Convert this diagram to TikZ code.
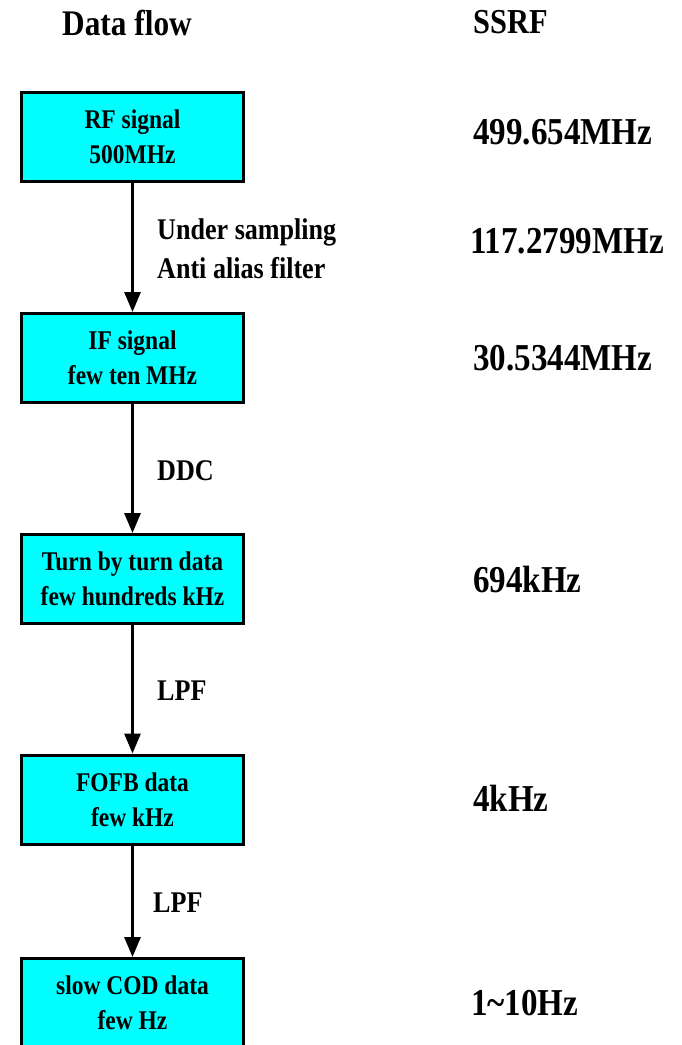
\documentclass[tikz,border=0pt]{standalone}
\usepackage{fontspec}
\setmainfont[FakeStretch=0.87]{Liberation Serif}
\usetikzlibrary{arrows.meta}
\definecolor{boxcyan}{RGB}{0,255,255}
\begin{document}
\begin{tikzpicture}[x=1pt,y=-1pt,
  flowbox/.style={draw=black, line width=3pt, fill=boxcyan, minimum width=222pt,
    minimum height=89pt, inner sep=0pt, align=center,
    font=\bfseries\fontsize{27}{35}\selectfont},
  flowarrow/.style={line width=3pt, -{Triangle[width=16pt 0 0,length=20pt 0 0]}},
  steplabel/.style={inner sep=0pt, align=left, font=\bfseries\fontsize{30}{39}\selectfont},
  headlabel/.style={inner sep=0pt, anchor=base west, font=\bfseries\fontsize{36}{40}\selectfont},
  freqlabel/.style={inner sep=0pt, anchor=base west, font=\bfseries\fontsize{38}{42}\selectfont}]
\useasboundingbox (0,0) rectangle (682,1045);

\node[headlabel] (hdf) at (62,35) {Data flow};
\node[headlabel, font=\bfseries\fontsize{35}{40}\selectfont] (hss) at (473,33) {SSRF};

\node[flowbox] (b1) at (132.5,137) {RF signal\\500MHz};
\node[flowbox] (b2) at (132.5,358) {IF signal\\few ten MHz};
\node[flowbox] (b3) at (132.5,579) {Turn by turn data\\few hundreds kHz};
\node[flowbox] (b4) at (132.5,799.5) {FOFB data\\few kHz};
\node[flowbox] (b5) at (132.5,1003) {slow COD data\\few Hz};

\draw[flowarrow] (b1.south) -- (b2.north);
\draw[flowarrow] (b2.south) -- (b3.north);
\draw[flowarrow] (b3.south) -- (b4.north);
\draw[flowarrow] (b4.south) -- (b5.north);

\node[steplabel, anchor=west] (l1) at (157,249) {Under sampling\\Anti alias filter};
\node[steplabel, anchor=base west] (l2) at (157,480) {DDC};
\node[steplabel, anchor=base west] (l3) at (157,700) {LPF};
\node[steplabel, anchor=base west] (l4) at (153,912) {LPF};

\node[freqlabel] (f1) at (473,144) {499.654MHz};
\node[freqlabel] (f2) at (470,253) {117.2799MHz};
\node[freqlabel] (f3) at (473,370) {30.5344MHz};
\node[freqlabel] (f4) at (473,592) {694kHz};
\node[freqlabel] (f5) at (473,811) {4kHz};
\node[freqlabel] (f6) at (471,1015) {1\textasciitilde 10Hz};
\end{tikzpicture}
\end{document}
